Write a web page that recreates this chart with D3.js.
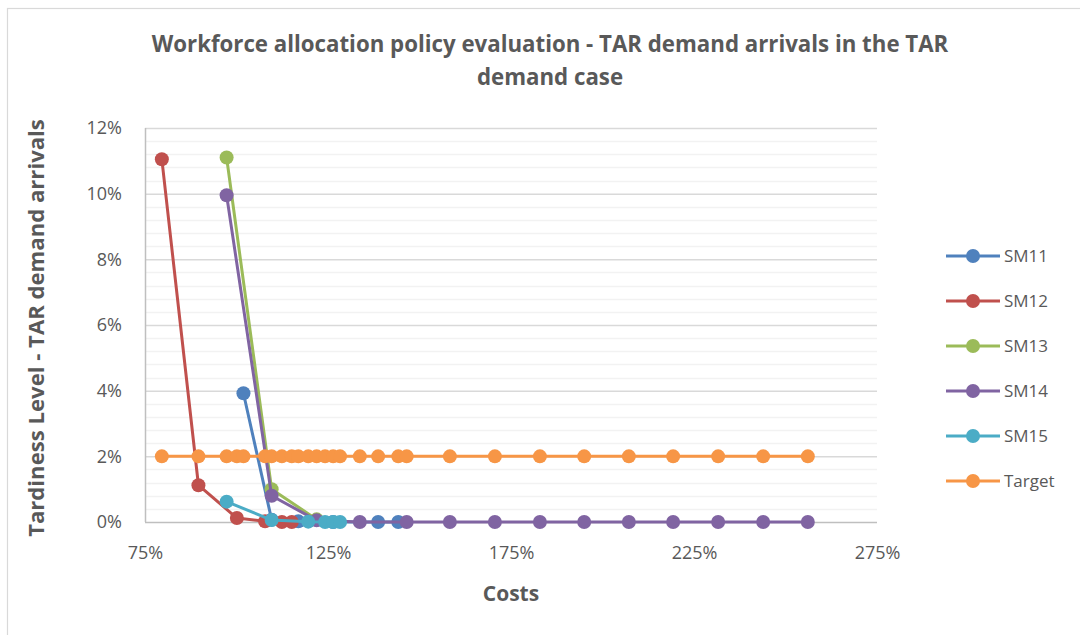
<!DOCTYPE html>
<html>
<head>
<meta charset="utf-8">
<script src="https://cdn.jsdelivr.net/npm/d3@7"></script>
<style>
  html, body { margin: 0; padding: 0; background: #fff; }
  svg { display: block; }
  text { font-family: "Open Sans", "Noto Sans", sans-serif; fill: #595959; }
</style>
</head>
<body>
<svg id="chart" width="1080" height="635"></svg>
<script>
// Costs (% of baseline) and tardiness level (%) per workforce allocation policy
const sm11Costs = [101.9, 109.6, 116.9, 126.4, 138.7, 144.2];
const sm11Tardiness = [3.92, 0.07, 0.02, 0.0, 0.0, 0.0];

const sm12Costs = [79.6, 89.6, 100.1, 107.8, 112.4, 115.1];
const sm12Tardiness = [11.05, 1.12, 0.12, 0.02, 0.0, 0.0];

const sm13Costs = [97.3, 109.6, 121.9];
const sm13Tardiness = [11.1, 1.0, 0.08];

const sm14Costs = [97.3, 109.6, 121.9, 133.7, 146.5, 158.3, 170.6, 182.9, 195.0, 207.2, 219.3, 231.6, 243.9, 256.1];
const sm14Tardiness = [9.95, 0.8, 0.05, 0, 0, 0, 0, 0, 0, 0, 0, 0, 0, 0];

const sm15Costs = [97.3, 109.6, 119.6, 124.2, 126.4, 128.3];
const sm15Tardiness = [0.62, 0.06, 0.01, 0.0, 0.0, 0.0];

const targetCosts = [79.6, 89.6, 97.3, 100.1, 101.9, 107.8, 109.6, 112.4, 115.1, 116.9, 119.6, 121.9, 124.2, 126.4, 128.3, 133.7, 138.7, 144.2, 146.5, 158.3, 170.6, 182.9, 195.0, 207.2, 219.3, 231.6, 243.9, 256.1];
const targetTardiness = targetCosts.map(() => 2);

const seriesNames = ["SM11", "SM12", "SM13", "SM14", "SM15", "Target"];
const seriesColors = ["#4F81BD", "#C0504D", "#9BBB59", "#8064A2", "#4BACC6", "#F79646"];
const xTicks = [75, 125, 175, 225, 275];
const yTicks = [0, 2, 4, 6, 8, 10, 12];

const titleLines = ["Workforce allocation policy evaluation - TAR demand arrivals in the TAR", "demand case"];
const xTitle = "Costs";
const yTitle = "Tardiness Level - TAR demand arrivals";

const seriesData = [
  [sm11Costs, sm11Tardiness],
  [sm12Costs, sm12Tardiness],
  [sm13Costs, sm13Tardiness],
  [sm14Costs, sm14Tardiness],
  [sm15Costs, sm15Tardiness],
  [targetCosts, targetTardiness]
].map(([xs, ys], i) => ({
  name: seriesNames[i],
  color: seriesColors[i],
  points: xs.map((x, j) => ({ x, y: ys[j] }))
}));

const svg = d3.select("#chart");

// chart frame
svg.append("rect")
  .attr("x", 7.5).attr("y", 8.5)
  .attr("width", 1100).attr("height", 700)
  .attr("fill", "#fff").attr("stroke", "#D9D9D9").attr("stroke-width", 1.2);

const plot = { left: 145, right: 877, top: 128, bottom: 522 };

const x = d3.scaleLinear().domain([75, 275]).range([plot.left, plot.right]);
const y = d3.scaleLinear().domain([0, 12]).range([plot.bottom, plot.top]);

// minor gridlines every 0.4%
const minor = d3.range(0, 12.001, 0.4).filter(v => Math.abs(v / 2 - Math.round(v / 2)) > 1e-6);
svg.append("g").selectAll("line").data(minor).join("line")
  .attr("x1", plot.left).attr("x2", plot.right)
  .attr("y1", d => Math.round(y(d)) + 0.5).attr("y2", d => Math.round(y(d)) + 0.5)
  .attr("stroke", "#F2F2F2").attr("stroke-width", 1.5);

// major gridlines via axis
const yAxis = d3.axisLeft(y).tickValues(yTicks).tickSize(-(plot.right - plot.left))
  .tickFormat(d => d + "%");
const gy = svg.append("g").attr("transform", `translate(${plot.left},0)`).call(yAxis);
gy.select(".domain").remove();
gy.selectAll(".tick line").attr("stroke", d => d === 0 ? "#BFBFBF" : "#D9D9D9").attr("stroke-width", 1.5);
gy.selectAll(".tick text").attr("font-size", 18).attr("fill", "#595959")
  .attr("font-family", "'Open Sans', sans-serif").attr("x", -23);

// left axis line
svg.append("line")
  .attr("x1", plot.left + 0.5).attr("x2", plot.left + 0.5)
  .attr("y1", plot.top).attr("y2", plot.bottom)
  .attr("stroke", "#BFBFBF").attr("stroke-width", 1.5);

const xAxis = d3.axisBottom(x).tickValues(xTicks).tickSize(0).tickPadding(24)
  .tickFormat(d => d + "%");
const gx = svg.append("g").attr("transform", `translate(0,${plot.bottom})`).call(xAxis);
gx.select(".domain").remove();
gx.selectAll(".tick text").attr("font-size", 18).attr("fill", "#595959")
  .attr("font-family", "'Open Sans', sans-serif");

// series lines and markers
const line = d3.line().x(d => x(d.x)).y(d => y(d.y));
const seriesG = svg.append("g");
seriesData.forEach(s => {
  const g = seriesG.append("g");
  g.append("path").datum(s.points)
    .attr("d", line).attr("fill", "none")
    .attr("stroke", s.color).attr("stroke-width", 3).attr("stroke-linejoin", "round");
  g.selectAll("circle").data(s.points).join("circle")
    .attr("cx", d => x(d.x)).attr("cy", d => y(d.y)).attr("r", 7)
    .attr("fill", s.color);
});

// legend
const legend = svg.append("g");
seriesData.forEach((s, i) => {
  const ly = 256 + i * 45;
  legend.append("line").attr("x1", 946).attr("x2", 1000).attr("y1", ly).attr("y2", ly)
    .attr("stroke", s.color).attr("stroke-width", 3);
  legend.append("circle").attr("cx", 973).attr("cy", ly).attr("r", 7).attr("fill", s.color);
  legend.append("text").attr("x", 1004).attr("y", ly).attr("dy", "0.36em")
    .attr("font-size", 17).text(s.name);
});

// fit a text element to a target width by scaling its font size
function fitWidth(sel, width) {
  const w = sel.node().getComputedTextLength();
  const fs = parseFloat(sel.attr("font-size"));
  sel.attr("font-size", (fs * width / w).toFixed(2));
}

// title
const t1 = svg.append("text").attr("x", 550).attr("y", 52).attr("text-anchor", "middle")
  .attr("font-weight", "bold").attr("font-size", 20).text(titleLines[0]);
fitWidth(t1, 797);
svg.append("text").attr("x", 550).attr("y", 85).attr("text-anchor", "middle")
  .attr("font-weight", "bold").attr("font-size", t1.attr("font-size")).text(titleLines[1]);

// axis titles
svg.append("text").attr("x", 511).attr("y", 601).attr("text-anchor", "middle")
  .attr("font-weight", "bold").attr("font-size", 21).text(xTitle);
const yt = svg.append("text").attr("transform", "translate(44,328) rotate(-90)")
  .attr("text-anchor", "middle").attr("font-weight", "bold").attr("font-size", 19).text(yTitle);
fitWidth(yt, 418);
</script>
</body>
</html>
